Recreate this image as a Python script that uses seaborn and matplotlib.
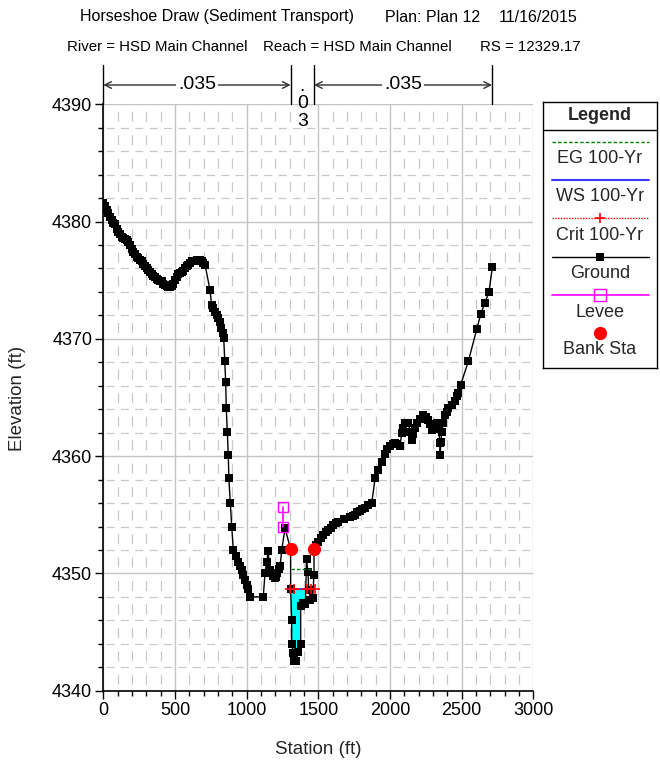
import matplotlib
matplotlib.use('Agg')
import matplotlib.pyplot as plt
import seaborn as sns
import pandas as pd
import numpy as np

sns.set_theme(style='white')
plt.rcParams['font.family'] = ['Liberation Sans', 'DejaVu Sans']
plt.rcParams['lines.scale_dashes'] = False

# ---------------- data ----------------
ground_sta = [
    0, 12, 24, 35, 47, 60, 70, 82, 95, 105, 118, 128, 140, 152, 163, 174, 186, 198, 210, 222,
    233, 245, 257, 268, 280, 291, 303, 314, 326, 338, 349, 361, 372, 384, 395, 407, 419, 430,
    442, 454, 465, 477, 488, 500, 512, 523, 535, 547, 558, 570, 582, 593, 605, 617, 628, 640,
    652, 663, 675, 687, 698, 710,
    744, 756, 768, 779, 790, 800, 812, 823, 835, 840, 847, 854, 858, 865, 872, 876, 886, 896,
    907, 925, 942, 955, 966, 978, 989, 1000, 1012, 1024, 1116, 1128, 1140, 1151, 1160, 1170,
    1182, 1195, 1205, 1215, 1225, 1233, 1245, 1268,
    1307, 1307, 1314, 1314, 1325, 1333, 1345, 1360, 1377, 1377, 1395, 1410, 1418, 1428, 1433,
    1445, 1460, 1470, 1470,
    1483, 1500, 1518, 1535, 1552, 1570, 1588, 1605, 1622, 1640, 1680, 1721, 1740, 1756, 1773,
    1791, 1808, 1826, 1850, 1873, 1896, 1919, 1942, 1965, 1982, 2000, 2018, 2035, 2052, 2070,
    2082, 2094, 2105, 2117, 2128, 2140, 2152, 2163, 2175, 2187, 2210, 2233, 2250, 2268, 2280,
    2291, 2308, 2326, 2340, 2349, 2349, 2356, 2361, 2372, 2384, 2396, 2407, 2430, 2454, 2466,
    2477, 2494, 2547, 2605, 2633, 2663, 2691, 2714]
ground_elev = [
    4381.6, 4381.3, 4381.0, 4380.7, 4380.4, 4380.1, 4379.9, 4379.8, 4379.4, 4379.1, 4378.9,
    4378.7, 4378.6, 4378.5, 4378.4, 4378.3, 4378.0, 4377.7, 4377.4, 4377.2, 4377.0, 4376.9,
    4376.7, 4376.6, 4376.4, 4376.2, 4376.0, 4375.9, 4375.7, 4375.5, 4375.4, 4375.3, 4375.1,
    4375.0, 4374.9, 4374.9, 4374.7, 4374.6, 4374.5, 4374.4, 4374.4, 4374.5, 4374.7, 4375.0,
    4375.3, 4375.5, 4375.6, 4375.7, 4375.8, 4376.0, 4376.2, 4376.3, 4376.5, 4376.6, 4376.6,
    4376.6, 4376.7, 4376.7, 4376.7, 4376.6, 4376.5, 4376.3,
    4374.2, 4372.9, 4372.6, 4372.3, 4372.0, 4371.8, 4371.4, 4370.9, 4370.5, 4370.1, 4368.1,
    4366.3, 4364.1, 4362.1, 4360.1, 4358.1, 4356.0, 4354.0, 4352.0, 4351.5, 4351.0, 4350.6,
    4350.3, 4349.9, 4349.4, 4349.0, 4348.7, 4348.0, 4348.0, 4350.0, 4351.0, 4351.9, 4350.3,
    4350.0, 4349.8, 4349.6, 4349.7, 4350.0, 4350.4, 4350.6, 4352.0, 4353.85,
    4352.06, 4348.7, 4346.0, 4344.0, 4343.2, 4342.5, 4342.5, 4343.3, 4344.0, 4347.2, 4347.5,
    4347.4, 4351.2, 4350.1, 4348.6, 4347.7, 4347.9, 4349.9, 4352.06,
    4352.4, 4352.7, 4353.0, 4353.3, 4353.5, 4353.7, 4353.9, 4354.1, 4354.3, 4354.4, 4354.6,
    4354.8, 4354.9, 4355.0, 4355.2, 4355.3, 4355.5, 4355.6, 4355.8, 4356.0, 4358.1, 4358.8,
    4359.5, 4360.2, 4360.6, 4360.9, 4361.0, 4361.1, 4361.0, 4360.9, 4361.95, 4362.4, 4362.8,
    4362.8, 4362.8, 4362.1, 4361.4, 4361.9, 4362.4, 4362.8, 4363.2, 4363.5, 4363.3, 4363.1,
    4362.7, 4362.2, 4362.5, 4362.8, 4362.3, 4361.1, 4360.1, 4361.2, 4362.1, 4362.8, 4363.5,
    4363.8, 4364.1, 4364.4, 4364.7, 4365.1, 4365.4, 4366.1, 4368.1, 4370.8, 4372.1, 4373.1,
    4374.0, 4376.1]

bank_sta = [1307, 1470]
bank_elev = [4352.06, 4352.06]
levee_sta = [1255, 1255]
levee_elev = [4355.7, 4354.0]
ws_elev = 4348.7
ws_sta = [1300, 1475]
crit_elev = 4348.7
crit_sta = [1303, 1331, 1419, 1447, 1477]
eg_elev = 4350.4
eg_sta = [1307, 1455]

n_sta = [0, 1307, 1470, 2712]
n_vals = ['.035', '.03', '.035']

x_ticks = [0, 500, 1000, 1500, 2000, 2500, 3000]
y_ticks = [4340, 4350, 4360, 4370, 4380, 4390]

title1 = ['Horseshoe Draw (Sediment Transport)', 'Plan: Plan 12', '11/16/2015']
title2 = ['River = HSD Main Channel', 'Reach = HSD Main Channel', 'RS = 12329.17']
legend_labels = ['EG 100-Yr', 'WS 100-Yr', 'Crit 100-Yr', 'Ground', 'Levee', 'Bank Sta']

# ---------------- figure ----------------
W, H = 660, 762
fig = plt.figure(figsize=(6.6, 7.62), dpi=100)
fig.patch.set_facecolor('white')


def fx(px):
    return px / W


def fy(py):
    return 1 - py / H


ax = fig.add_axes([fx(103.3), fy(690.7), fx(533.3) - fx(103.3), fy(104.3) - fy(690.7)])
ax.set_facecolor('white')
ax.set_xlim(0, 3000)
ax.set_ylim(4340, 4390)
ax.set_xticks(x_ticks)
ax.set_yticks(y_ticks)
ax.xaxis.set_minor_locator(matplotlib.ticker.MultipleLocator(100))
ax.yaxis.set_minor_locator(matplotlib.ticker.MultipleLocator(2))
ax.tick_params(axis='both', which='both', direction='out', bottom=True, left=True,
               top=False, right=False, color='black', width=1)
ax.tick_params(axis='both', which='major', length=6, labelsize=13, pad=2, labelcolor='black')
ax.tick_params(axis='both', which='minor', length=3.5)
for s in ['top', 'right']:
    ax.spines[s].set_visible(False)
for s in ['left', 'bottom']:
    ax.spines[s].set_color('black')
    ax.spines[s].set_linewidth(1.2)

ax.set_axisbelow(True)
ax.xaxis.grid(True, which='major', color='#c4c4c4', lw=1.0, ls='-')
ax.yaxis.grid(True, which='major', color='#c4c4c4', lw=1.0, ls='-')
ax.xaxis.grid(True, which='minor', color='#c8c8c8', lw=0.9, ls=(12.05, (7.2, 9.69)))
ax.yaxis.grid(True, which='minor', color='#c8c8c8', lw=0.9, ls=(8.04, (5.76, 4.56)))

gs = np.array(ground_sta, dtype=float)
ge = np.array(ground_elev, dtype=float)

# water fill in the channel
mask = (gs >= bank_sta[0]) & (gs <= bank_sta[1])
cs, ce = gs[mask], ge[mask]
ax.fill_between(cs, ce, ws_elev, where=ce < ws_elev, interpolate=True,
                color='#00ffff', lw=0, zorder=2)

df = pd.DataFrame({'Station': ground_sta, 'Elevation': ground_elev})
sns.lineplot(data=df, x='Station', y='Elevation', sort=False, estimator=None,
             color='black', lw=1.0, marker='s', markersize=6, markeredgewidth=0,
             ax=ax, zorder=3)

ax.plot(eg_sta, [eg_elev] * len(eg_sta), color='#008000', lw=1.0, ls=(0, (2.5, 1.5)), zorder=4)
ax.plot(ws_sta, [ws_elev] * len(ws_sta), color='#3c3cff', lw=1.3, zorder=4)
ax.plot(crit_sta, [crit_elev] * len(crit_sta), color='red', lw=1.0, ls=(0, (1, 1)),
        marker='+', markersize=7, markeredgewidth=1.2, zorder=5)
ax.plot(levee_sta, levee_elev, color='#ff00ff', lw=1.2, marker='s', markersize=7,
        markerfacecolor='none', markeredgecolor='#ff00ff', markeredgewidth=1.0, zorder=5)
ax.plot(bank_sta, bank_elev, ls='none', marker='o', markersize=9.5, color='red',
        markeredgewidth=0, zorder=6)

ax.set_xlabel('')
ax.set_ylabel('')

# ---------------- Manning's n annotations ----------------
trans = ax.get_xaxis_transform()
y_arrow = (690.7 - 85) / 586.4
y_top = (690.7 - 65) / 586.4
for s in n_sta:
    ax.plot([s, s], [1.0, y_top], transform=trans, clip_on=False, color='black', lw=1.0)
for i, lab in enumerate(n_vals):
    a, b = n_sta[i], n_sta[i + 1]
    mid = (a + b) / 2
    if b - a > 500:
        ax.annotate('', xy=(a, y_arrow), xytext=(b, y_arrow), xycoords=trans, textcoords=trans,
                    arrowprops=dict(arrowstyle='<->', color='#303030', lw=1.0,
                                    shrinkA=0, shrinkB=0, mutation_scale=12))
        ax.text(mid, y_arrow, lab, transform=trans, ha='center', va='center', fontsize=14,
                color='black', bbox=dict(facecolor='white', edgecolor='none', pad=1.5),
                zorder=5)
    else:
        ax.text(mid, (690.7 - 104) / 586.4, '\n'.join(lab), transform=trans, ha='center',
                va='center', fontsize=14, linespacing=1.05, color='black', zorder=5)

# ---------------- titles / labels ----------------
for txt, px in zip(title1, [80, 385, 499]):
    fig.text(fx(px), fy(17), txt, ha='left', va='center', fontsize=11.5, color='black')
for txt, px in zip(title2, [67, 263, 480]):
    fig.text(fx(px), fy(47), txt, ha='left', va='center', fontsize=10.8, color='black')
fig.text(fx(318), fy(749), 'Station (ft)', ha='center', va='center', fontsize=13.5)
fig.text(fx(18), fy(398), 'Elevation (ft)', ha='center', va='center', fontsize=13.5,
         rotation=90)

# ---------------- legend ----------------
L, R, T, B = 543, 657, 101.7, 368
lax = fig.add_axes([fx(L), fy(B), fx(R) - fx(L), fy(T) - fy(B)])
lax.set_xlim(L, R)
lax.set_ylim(B, T)
lax.set_xticks([])
lax.set_yticks([])
lax.set_facecolor('white')
for s in lax.spines.values():
    s.set_color('black')
    s.set_linewidth(1.0)
    s.set_visible(True)
cx = (L + R) / 2
lax.text(cx, 115.5, 'Legend', ha='center', va='center', fontsize=13, fontweight='bold')
lax.plot([L, R], [130, 130], color='black', lw=1.0)
x0, x1 = 552, 649
lax.plot([x0, x1], [141.7, 141.7], color='#008000', lw=1.0, ls=(0, (2.5, 1.5)))
lax.plot([x0, x1], [180, 180], color='#3c3cff', lw=1.5)
lax.plot([x0, x1], [218.3, 218.3], color='red', lw=1.0, ls=(0, (1, 1)))
lax.plot([cx], [218.3], marker='+', color='red', markersize=7, markeredgewidth=1.2)
lax.plot([x0, x1], [257.3, 257.3], color='black', lw=1.0)
lax.plot([cx], [257.3], marker='s', color='black', markersize=6, markeredgewidth=0)
lax.plot([x0, x1], [295, 295], color='#ff00ff', lw=1.2)
lax.plot([cx], [295], marker='s', markersize=8, markerfacecolor='none',
         markeredgecolor='#ff00ff', markeredgewidth=1.0)
lax.plot([cx], [333.3], marker='o', markersize=9.5, color='red', markeredgewidth=0)
for lab, yy in zip(legend_labels, [158.5, 196.7, 235, 274, 312.3, 350]):
    lax.text(cx, yy, lab, ha='center', va='center', fontsize=13)

fig.savefig('out.png', dpi=100, facecolor='white')
